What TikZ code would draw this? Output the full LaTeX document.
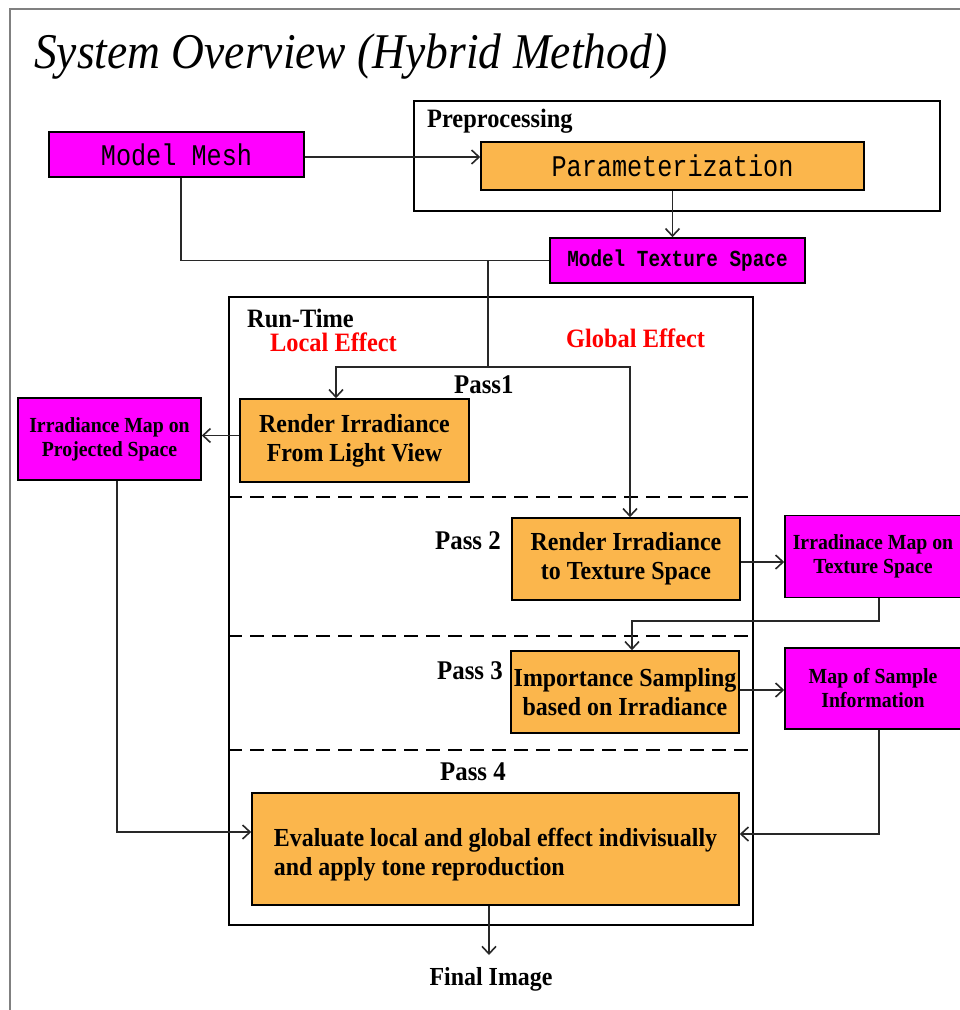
\documentclass[tikz,border=0pt]{standalone}
\usepackage{fontspec}
\setmainfont{Liberation Serif}
\newfontfamily\labelfont[FakeStretch=0.92]{Liberation Serif}
\newfontfamily\titlefont[FakeStretch=0.91]{Liberation Serif}
\newfontfamily\monofont[FakeStretch=0.84]{Liberation Mono}
\usetikzlibrary{arrows.meta,calc}

\definecolor{boxmagenta}{RGB}{255,0,255}
\definecolor{boxorange}{RGB}{251,182,76}
\definecolor{framegray}{RGB}{128,128,128}
\definecolor{linegray}{RGB}{40,40,40}

\tikzset{
  boxbase/.style={draw=black, line width=1.6pt, inner sep=0pt, anchor=center},
  datanode/.style={boxbase, fill=boxmagenta},
  stagenode/.style={boxbase, fill=boxorange},
  groupframe/.style={draw=black, line width=2pt, inner sep=0pt, fill=none},
  boldlabel/.style={font=\labelfont\bfseries\fontsize{26}{29}\selectfont, align=center, inner sep=0pt},
  headlabel/.style={boldlabel, anchor=west, font=\labelfont\bfseries\fontsize{26.5}{29}\selectfont},
  smalllabel/.style={font=\labelfont\bfseries\fontsize{21.5}{24}\selectfont, align=center},
  redlabel/.style={headlabel, text=red},
  passtext/.style={boldlabel, anchor=west, font=\labelfont\bfseries\fontsize{27}{30}\selectfont},
  connector/.style={draw=linegray, line width=1.8pt},
  arrowline/.style={connector, -{Straight Barb[length=7.5pt,width=14pt,line width=1.6pt]}},
  passline/.style={draw=black, line width=2pt, dash pattern=on 14pt off 8pt},
}

\begin{document}
\begin{tikzpicture}[x=1pt,y=-1pt]
\useasboundingbox (0,0) rectangle (960,1010);

% page frame (top and left edges)
\draw[framegray, line width=2pt] (9.5,1012) -- (9.5,9) -- (962,9);

% title
\node[anchor=west, inner sep=0pt, font=\titlefont\itshape\fontsize{50}{55}\selectfont]
  (title) at (34,57) {System Overview (Hybrid Method)};

% preprocessing group
\node[groupframe, minimum width=526, minimum height=110] (prep) at (677,156) {};
\node[headlabel] (preptitle) at (427,121) {Preprocessing};

\node[datanode, minimum width=255, minimum height=45, font=\monofont\fontsize{30}{32}\selectfont]
  (mesh) at (176.5,154.5) {Model Mesh};
\node[stagenode, minimum width=383, minimum height=48, font=\monofont\fontsize{30}{32}\selectfont]
  (param) at (672.5,166) {Parameterization};
\node[datanode, minimum width=255, minimum height=45, font=\monofont\bfseries\fontsize{23}{25}\selectfont]
  (mts) at (677.5,260.5) {Model Texture Space};

% run-time group
\node[groupframe, minimum width=524, minimum height=628] (rt) at (491,611) {};
\node[headlabel] (rttitle) at (247,318) {Run-Time};
\node[redlabel] (local) at (270,342) {Local Effect};
\node[redlabel] (global) at (566,338) {Global Effect};

% pass separators
\draw[passline] (rt.west |- 0,497) -- (rt.east |- 0,497);
\draw[passline] (rt.west |- 0,636) -- (rt.east |- 0,636);
\draw[passline] (rt.west |- 0,750) -- (rt.east |- 0,750);

\node[passtext] (pass1) at (454,385) {Pass1};
\node[passtext] (pass2) at (435,541) {Pass 2};
\node[passtext] (pass3) at (437,671) {Pass 3};
\node[passtext] (pass4) at (440,772) {Pass 4};

% stages
\node[stagenode, boldlabel, minimum width=229, minimum height=83] (rilv) at (354.5,440.5)
  {Render Irradiance\\From Light View};
\node[stagenode, boldlabel, minimum width=228, minimum height=82] (rits) at (626,559)
  {Render Irradiance\\to Texture Space};
\node[stagenode, boldlabel, minimum width=228, minimum height=82] (is) at (625,692)
  {Importance Sampling\\based on Irradiance};
\node[stagenode, boldlabel, align=left, minimum width=487, minimum height=112] (eval) at (495.5,849)
  {\rule{0pt}{30pt}Evaluate local and global effect indivisually\\and apply tone reproduction};

% intermediate maps
\node[datanode, smalllabel, minimum width=183, minimum height=82] (imps) at (109.5,439)
  {Irradiance Map on\\Projected Space};
\node[datanode, smalllabel, minimum width=176, minimum height=82] (imts) at (873,556.5)
  {Irradinace Map on\\Texture Space};
\node[datanode, smalllabel, minimum width=176, minimum height=81] (mosi) at (873,688.5)
  {Map of Sample\\Information};

\node[boldlabel, anchor=north] (final) at (491,967) {Final Image};

% junctions
\coordinate (split) at (488,260.5);
\coordinate (fork) at (488,367);

% connectors
\draw[arrowline] ([yshift=-2.5]mesh.east) -- ([yshift=-2.5]mesh.east -| param.west);
\draw[arrowline] (param.south) -- (param.south |- mts.north);
\draw[connector] ([xshift=4.5]mesh.south) |- (mts.west);
\draw[connector] (split) -- (fork);
\draw[arrowline] (fork) -| ([xshift=-18.5]rilv.north);
\draw[arrowline] (fork) -| ([xshift=4]rits.north);
\draw[arrowline] ([yshift=5]rilv.west) -- ([yshift=5]rilv.west -| imps.east);
\draw[arrowline] ([yshift=-3]rits.east) -- ([yshift=-3]rits.east -| imts.west);
\draw[arrowline] ([xshift=6]imts.south) -- ++(0,23) -| ([xshift=7]is.north);
\draw[arrowline] ([yshift=2]is.east) -- ([yshift=2]is.east -| mosi.west);
\draw[arrowline] ([xshift=7.5]imps.south) |- ([yshift=17]eval.west);
\draw[arrowline] ([xshift=6]mosi.south) |- ([yshift=15]eval.east);
\draw[arrowline] ([xshift=-6.5]eval.south) -- ([xshift=-6.5,yshift=12]eval.south |- final.north);
\end{tikzpicture}
\end{document}
